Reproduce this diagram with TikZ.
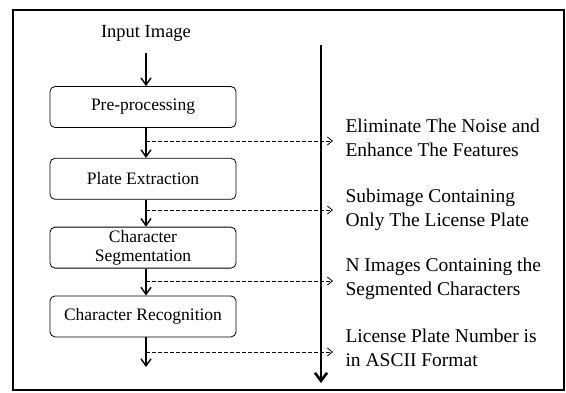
\documentclass[tikz,border=0pt]{standalone}
\usepackage{fontspec}
\setmainfont{Liberation Serif}
\usepackage{tikz}
\usetikzlibrary{arrows.meta,positioning,calc}

\begin{document}
\begin{tikzpicture}[x=1pt,y=-1pt, node distance=30pt, box/.style={draw,rounded corners=5pt,minimum width=186pt,minimum height=41pt,inner sep=1pt,align=center,font=\fontsize{17.5}{19}\selectfont,line width=0.8pt}, note/.style={anchor=west,align=left,font=\fontsize{19.5}{24}\selectfont}, arrow/.style={-{Straight Barb[length=7pt,width=10pt]},line width=1.4pt}, link/.style={dash pattern=on 4pt off 2pt,-{Straight Barb[length=5pt,width=8pt]},line width=0.8pt,shorten >=9pt}]
    \useasboundingbox (0,0) rectangle (566,392);
    \draw[line width=1.5pt] (13,10) rectangle (564,390);
    \node[font=\fontsize{18.5}{20}\selectfont] (in) at (146,33) {Input Image};
    \node[box] (pre) at (143,107) {Pre-processing};
    \node[box,below=of pre] (plate) {Plate Extraction};
    \node[box,below=27pt of plate] (seg) {Character\\Segmentation};
    \node[box,below=27pt of seg] (rec) {Character Recognition};
    \coordinate (col) at (146,53);
    \coordinate (end) at (146,367);
    % process arrows
    \draw[arrow] (col) -- (col |- pre.north);
    \draw[arrow] (col |- pre.south) -- (col |- plate.north);
    \draw[arrow] (col |- plate.south) -- (col |- seg.north);
    \draw[arrow] (col |- seg.south) -- (col |- rec.north);
    \draw[arrow] (col |- rec.south) -- (end);
    % output bus
    \coordinate (top) at (321,45);
    \coordinate (bot) at (321,383);
    \draw[-{Straight Barb[length=8pt,width=12pt]},line width=2.6pt] (top) -- (bot);
    \node[note] (n1) at (342,138) {Eliminate The Noise and\\Enhance The Features};
    \node[note] (n2) at (342,210) {Subimage Containing\\Only The License Plate};
    \node[note] (n3) at (342,279) {N Images Containing the\\Segmented Characters};
    \node[note] (n4) at (342,348) {License Plate Number is\\in ASCII Format};
    \coordinate (d1) at (146,141);
    \coordinate (d2) at (146,210);
    \coordinate (d3) at (146,281);
    \coordinate (d4) at (146,352);
    \draw[link] (d1) -- (n1.west |- d1);
    \draw[link] (d2) -- (n2.west |- d2);
    \draw[link] (d3) -- (n3.west |- d3);
    \draw[link] (d4) -- (n4.west |- d4);
  \end{tikzpicture}
\end{document}
